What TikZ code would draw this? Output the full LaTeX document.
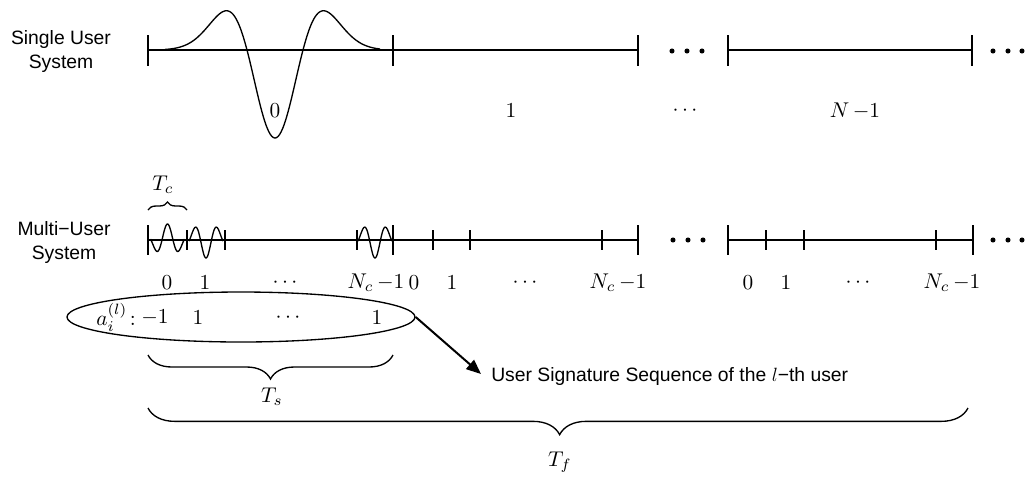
\documentclass[tikz,border=0pt]{standalone}
\usepackage{fontspec}
\setsansfont{Liberation Sans}
\usetikzlibrary{shapes.geometric,decorations.pathreplacing,arrows.meta}
\newcommand{\mylab}[1]{\scalebox{1.6}{$#1$}}
\begin{document}
\begin{tikzpicture}[x=0.75pt,y=-0.75pt,
  axis/.style={line width=1pt},
  bigtick/.style={line width=2.2pt},
  smalltick/.style={line width=0.9pt},
  wave/.style={line width=1pt},
  dotmark/.style={circle,fill,inner sep=0pt,minimum size=3.8pt},
  sys/.style={font=\sffamily\fontsize{14.5}{18}\selectfont,align=center},
  lab/.style={inner sep=0pt},
  mybrace/.style={decorate,line width=1pt},
]
\useasboundingbox (0,0) rectangle (1028,480);

% ---------- Single user system ----------
\node[sys] (single) at (61,51) {Single User\\System};
\draw[axis] (148,50) -- (638,50);
\draw[axis] (728,50) -- (972,50);
\foreach \x in {148,393,638,728,972} \draw[bigtick] (\x,35) -- (\x,66);
\draw[wave] plot[domain=-110:105,samples=140,smooth]
  ({275+\x},{50+88*(1-(\x)*(\x)/784)*exp(-((\x)*(\x))/1568)});
\foreach \x [count=\i] in {672,687,702,993,1008,1022}
  \node[dotmark] (td\i) at (\x,51) {};
\node[lab] (s0) at (275,111) {\mylab{0}};
\node[lab] (s1) at (511,111) {\mylab{1}};
\node[lab] (sd) at (685,111) {\mylab{\cdots}};
\node[lab] (sN) at (855,111) {\mylab{N\,{-}1}};

% ---------- Multi user system ----------
\node[sys] (multi) at (64,242) {Multi−User\\System};
\draw[axis] (148,240) -- (638,240);
\draw[axis] (728,240) -- (973,240);
\foreach \x in {148,393,638,728,973} \draw[bigtick] (\x,225) -- (\x,255);
\foreach \x in {187,225,357,433,470,602,766,804,936} \draw[smalltick] (\x,230) -- (\x,250);
\draw[wave] plot[domain=-17:17,samples=60,smooth]
  ({167.5+\x},{240-16*cos(16.36*(\x))*exp(-((\x)*(\x))/338)});
\draw[wave] plot[domain=-17:17,samples=60,smooth]
  ({206+\x},{240+18*cos(16.36*(\x))*exp(-((\x)*(\x))/338)});
\draw[wave] plot[domain=-17:17,samples=60,smooth]
  ({375+\x},{240+18*cos(16.36*(\x))*exp(-((\x)*(\x))/338)});
\foreach \x [count=\i] in {673,688,703,993,1008,1022}
  \node[dotmark] (md\i) at (\x,240) {};

% chip labels
\node[lab] (a0) at (167,283) {\mylab{0}};
\node[lab] (a1) at (205,283) {\mylab{1}};
\node[lab] (ad) at (285,283) {\mylab{\cdots}};
\node[lab] (aN) at (376,283) {\mylab{N_c\,{-}1}};
\node[lab] (b0) at (414,283) {\mylab{0}};
\node[lab] (b1) at (452,283) {\mylab{1}};
\node[lab] (bd) at (525,283) {\mylab{\cdots}};
\node[lab] (bN) at (618,283) {\mylab{N_c\,{-}1}};
\node[lab] (c0) at (748,283) {\mylab{0}};
\node[lab] (c1) at (786,283) {\mylab{1}};
\node[lab] (cd) at (858,283) {\mylab{\cdots}};
\node[lab] (cN) at (952,283) {\mylab{N_c\,{-}1}};

% T_c brace
\draw[mybrace,decoration={brace,amplitude=6pt}] (148,210) -- (187,210);
\node[lab] (Tc) at (163,185) {\mylab{T_c}};

% ---------- signature ellipse ----------
\node[ellipse,draw,line width=1pt,inner sep=0pt,minimum width=261pt,minimum height=37.5pt] (ell) at (241,317) {};
\node[lab] (ai) at (116,317) {\mylab{a_i^{(l)}\!:}};
\node[lab] (e1) at (155,318) {\mylab{-1}};
\node[lab] (e2) at (198,318) {\mylab{1}};
\node[lab] (e3) at (288,318) {\mylab{\cdots}};
\node[lab] (e4) at (377,318) {\mylab{1}};

\node[sys,anchor=west,inner sep=0pt] (sig) at (491,376) {User Signature Sequence of the $l$−th user};
\coordinate (tip) at (481,374);
\draw[line width=1.5pt,-{Triangle[length=11pt,width=9pt]}] (ell.east) -- (tip);

% T_s brace
\draw[mybrace,decoration={brace,mirror,amplitude=18pt}] (148,355) -- (393,355);
\node[lab] (Ts) at (272,397) {\mylab{T_s}};

% T_f brace
\draw[mybrace,decoration={brace,mirror,amplitude=20pt,aspect=0.502}] (148,408) -- (968,408);
\node[lab] (Tf) at (560,462) {\mylab{T_f}};
\end{tikzpicture}
\end{document}
